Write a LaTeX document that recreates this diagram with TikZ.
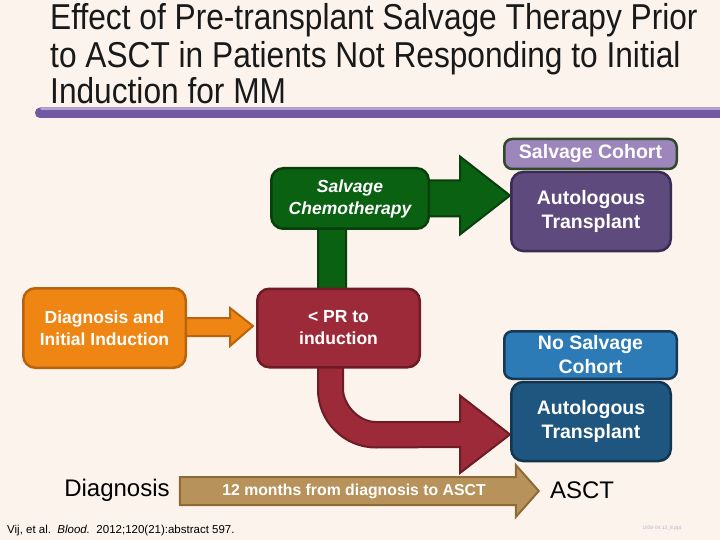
\documentclass[tikz,border=0pt]{standalone}
\usepackage{fontspec}
\setmainfont{Liberation Sans}
\newfontfamily\titlefont[FakeStretch=0.88]{Liberation Sans}
\usetikzlibrary{calc}
\definecolor{bgc}{HTML}{FCF4EC}
\definecolor{orangeF}{HTML}{EF8513}
\definecolor{orangeD}{HTML}{B8640E}
\definecolor{redF}{HTML}{9D2A39}
\definecolor{redD}{HTML}{6E1B26}
\definecolor{greenF}{HTML}{0A6112}
\definecolor{greenD}{HTML}{083F0D}
\definecolor{purpF}{HTML}{5E4A7D}
\definecolor{purpD}{HTML}{3A2B52}
\definecolor{lavF}{HTML}{9C86BC}
\definecolor{lavD}{HTML}{2E4A2A}
\definecolor{blueLF}{HTML}{2C7BB6}
\definecolor{blueLD}{HTML}{163A55}
\definecolor{blueF}{HTML}{1F5680}
\definecolor{blueD}{HTML}{123650}
\definecolor{tanF}{HTML}{B8925B}
\definecolor{tanD}{HTML}{8E6A36}
\definecolor{barF}{HTML}{7558A2}
\definecolor{barL}{HTML}{B3A2CF}
\definecolor{idc}{HTML}{B5B0D5}
\pgfdeclarelayer{back}
\pgfdeclarelayer{arrows}
\pgfsetlayers{back,arrows,main}
\tikzset{
  box/.style={draw, line width=2.5pt, rounded corners=12pt, text=white, align=center, inner sep=0pt,
    font=\bfseries\fontsize{17.5}{22}\selectfont},
  bigbox/.style={box, font=\bfseries\fontsize{19.5}{24}\selectfont},
  tag/.style={bigbox, rounded corners=8pt},
  blockarrow/.style={line width=2pt, line join=miter},
  titletext/.style={anchor=base west, inner sep=0pt, font=\titlefont\fontsize{36}{37}\selectfont, text=black!90},
}
\begin{document}
\begin{tikzpicture}[x=1pt,y=-1pt]
\begin{pgfonlayer}{back}
\fill[bgc] (0,0) rectangle (720,540);
\end{pgfonlayer}
\useasboundingbox (0,0) rectangle (720,540);

% title
\node[titletext] (t1) at (50,30) {Effect of Pre-transplant Salvage Therapy Prior};
\node[titletext] (t2) at (50,67.5) {to ASCT in Patients Not Responding to Initial};
\node[titletext] (t3) at (50,104) {Induction for MM};
\fill[barF, rounded corners=5pt] (35,107.5) rectangle (740,118);
\fill[barL, rounded corners=1.5pt] (40,107.5) rectangle (740,110);

% boxes
\node[box, fill=orangeF, draw=orangeD, minimum width=162.5pt, minimum height=79.5pt] (diag) at (104.5,328) {Diagnosis and\\Initial Induction};
\node[box, fill=redF, draw=redD, minimum width=162.5pt, minimum height=78.5pt] (pr) at (338.5,328) {< PR to\\induction};
\node[box, fill=greenF, draw=greenD, minimum width=157.5pt, minimum height=60.5pt, font=\bfseries\itshape\fontsize{17.5}{22}\selectfont] (chemo) at (350,198.5) {Salvage\\Chemotherapy};
\node[tag, fill=lavF, draw=lavD, minimum width=172.5pt, minimum height=30pt] (cohort1) at (590.5,154) {Salvage Cohort};
\node[bigbox, fill=purpF, draw=purpD, minimum width=159.5pt, minimum height=79pt] (aut1) at (591,211.5) {Autologous\\Transplant};
\node[tag, fill=blueLF, draw=blueLD, minimum width=172.5pt, minimum height=47.5pt] (cohort2) at (590.5,355) {No Salvage\\Cohort};
\node[bigbox, fill=blueF, draw=blueD, minimum width=159.5pt, minimum height=79pt] (aut2) at (591,421.5) {Autologous\\Transplant};

% timeline labels
\node[inner sep=0pt, font=\fontsize{24}{28}\selectfont] (tdiag) at (117,490) {Diagnosis};
\node[inner sep=0pt, font=\fontsize{24}{28}\selectfont] (tasct) at (582,490) {ASCT};
\node[inner sep=0pt, text=white, font=\bfseries\fontsize{15.8}{18}\selectfont] (tline) at (354,491) {12 months from diagnosis to ASCT};

% citation and file id
\node[anchor=base west, inner sep=0pt, font=\fontsize{11.5}{14}\selectfont] (cite) at (7,533) {Vij, et al.\ \ \textit{Blood.}\ \ 2012;120(21):abstract 597.};
\node[inner sep=0pt, text=idc, font=\fontsize{5}{6}\selectfont] (fileid) at (662,528) {UI08-04.12\_8.ppt};

\coordinate (gt) at ($(chemo.east -| aut1.west)+(0,-3)$);
\coordinate (rt) at ($(aut2.west)+(0,13)$);

\begin{pgfonlayer}{arrows}
% orange arrow
\draw[blockarrow, fill=orangeF, draw=orangeD]
  ($(diag.east)+(-5,-10)$) -- ($(pr.west)+(-26,-10)$) -- ($(pr.west)+(-26,-20)$)
  -- ($(pr.west)+(-3,-2)$) -- ($(pr.west)+(-26,18)$) -- ($(pr.west)+(-26,8)$)
  -- ($(diag.east)+(-5,8)$) -- cycle;
% green vertical bar from < PR up to salvage chemotherapy
\draw[blockarrow, fill=greenF, draw=greenD]
  ($(pr.north)+(-20.5,8)$) -- ++(0,-91) -- ++(62,0) -- ++(0,10) -- ++(-16,0)
  .. controls +(-10,0) and +(0,-10) .. ++(-18,18) -- ++(0,63) -- cycle;
% green arrow to salvage cohort transplant
\draw[blockarrow, fill=greenF, draw=greenD]
  ($(chemo.east)+(-5,-18)$) -- ($(gt)+(-50,-15)$) -- ($(gt)+(-50,-39)$) -- (gt)
  -- ($(gt)+(-50,39)$) -- ($(gt)+(-50,21)$) -- ($(chemo.east)+(-5,18)$) -- cycle;
% red bent arrow
\draw[blockarrow, fill=redF, draw=redD]
  ($(pr.south)+(-20.5,-6)$) -- ++(0,27) .. controls +(0,32) and +(-32,0) .. ++(58,58)
  -- ($(rt)+(-50,12.5)$) -- ++(0,26) -- (rt) -- ($(rt)+(-50,-39)$) -- ++(0,26.5)
  -- ++(-84,0) .. controls +(-18,0) and +(0,15) .. ++(-33,-33) -- ++(0,-27) -- cycle;
% timeline arrow
\draw[blockarrow, fill=tanF, draw=tanD]
  ($(tdiag.east)+(10,-13)$) -- ($(tasct.west)+(-34,-13)$) -- ($(tasct.west)+(-34,-25)$)
  -- ($(tasct.west)+(-11,1)$) -- ($(tasct.west)+(-34,27)$) -- ($(tasct.west)+(-34,15)$)
  -- ($(tdiag.east)+(10,15)$) -- cycle;
\end{pgfonlayer}
\end{tikzpicture}
\end{document}
